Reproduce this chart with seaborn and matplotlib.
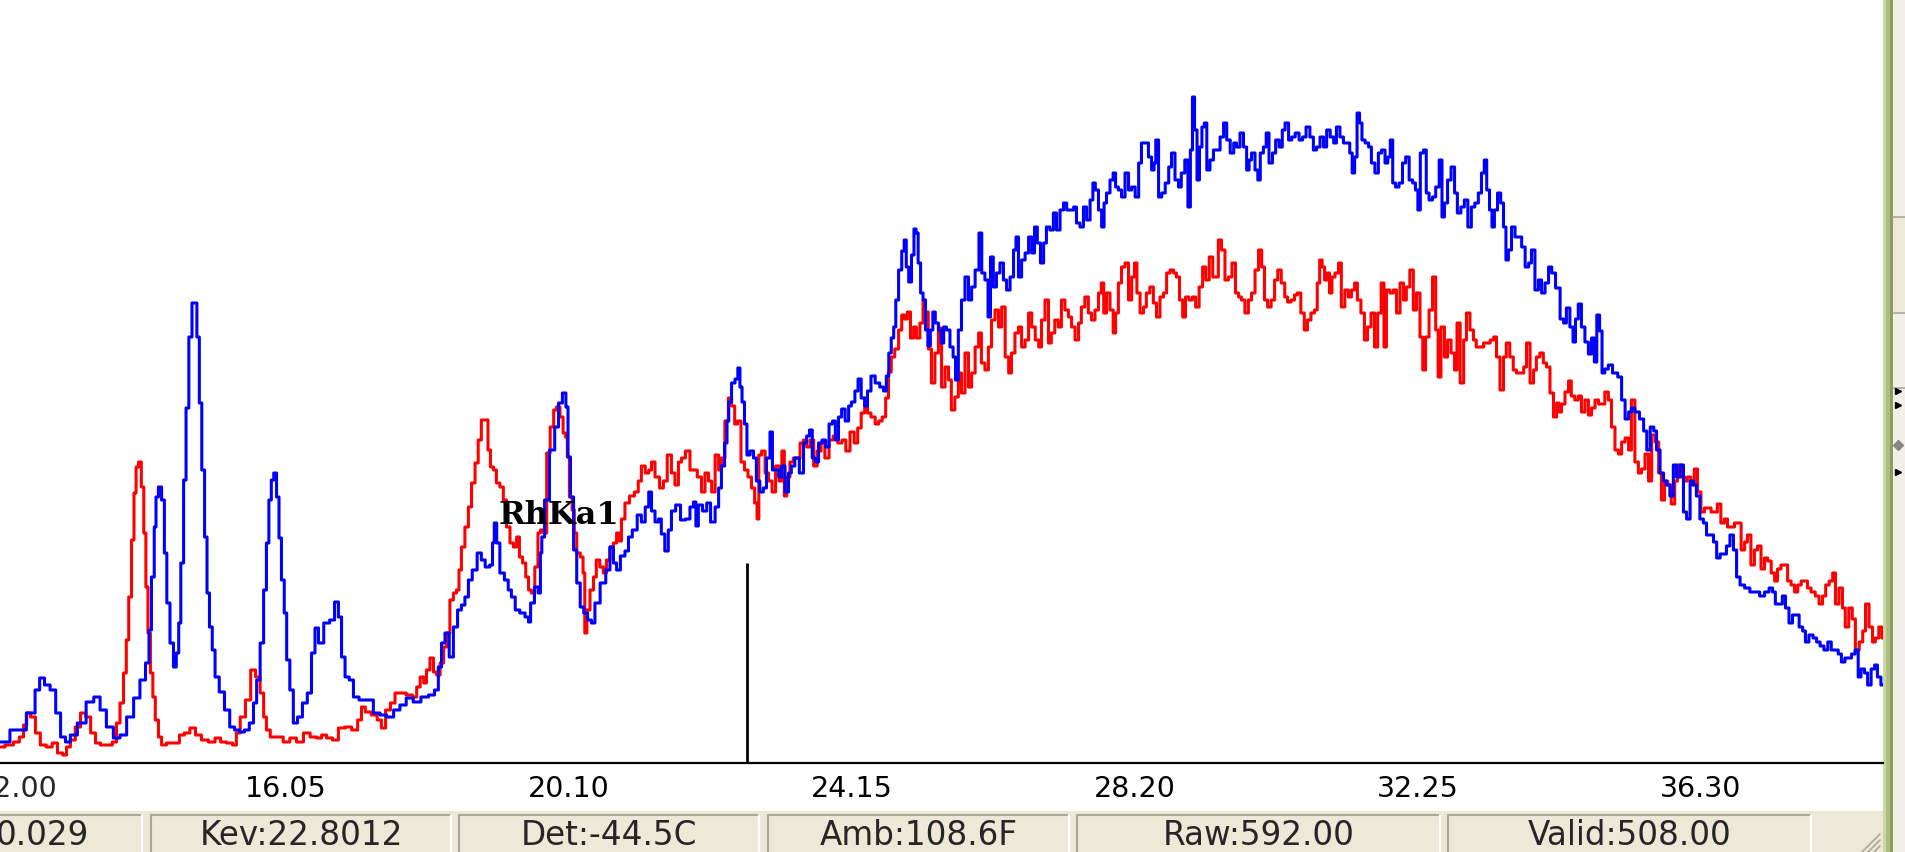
"""
XRF spectrum screen: two overlaid spectra (red / blue) with the analyzer status bar.
"""

import matplotlib
matplotlib.use("Agg")
import matplotlib.pyplot as plt
from matplotlib.patches import Rectangle
from matplotlib.transforms import ScaledTranslation
import pandas as pd
import seaborn as sns

# --- spectrum readings (energy in keV, counts) ---
red_kev = [
    12.11, 12.25, 12.35, 12.42, 12.47, 12.51, 12.58, 12.65, 12.72, 12.82,
    12.89, 12.97, 13.04, 13.08, 13.15, 13.22, 13.30, 13.37, 13.44, 13.51,
    13.58, 13.68, 13.75, 13.80, 13.85, 13.90, 13.93, 13.97, 14.01, 14.04,
    14.07, 14.11, 14.15, 14.18, 14.21, 14.24, 14.28, 14.31, 14.35, 14.40,
    14.44, 14.54, 14.64, 14.71, 14.78, 14.87, 14.94, 15.04, 15.14, 15.23,
    15.30, 15.40, 15.47, 15.51, 15.58, 15.66, 15.73, 15.80, 15.86, 15.90,
    15.94, 16.01, 16.11, 16.21, 16.30, 16.40, 16.50, 16.59, 16.69, 16.73,
    16.83, 16.90, 17.00, 17.09, 17.19, 17.26, 17.30, 17.37, 17.47, 17.54,
    17.59, 17.66, 17.73, 17.79, 17.87, 17.97, 18.05, 18.09, 18.15, 18.19,
    18.23, 18.29, 18.33, 18.38, 18.43, 18.48, 18.52, 18.57, 18.62, 18.66,
    18.69, 18.73, 18.79, 18.83, 18.88, 18.93, 18.97, 19.02, 19.08, 19.10,
    19.15, 19.19, 19.23, 19.29, 19.33, 19.38, 19.43, 19.48, 19.52, 19.56,
    19.61, 19.65, 19.69, 19.73, 19.79, 19.82, 19.86, 19.91, 19.95, 20.01,
    20.05, 20.09, 20.15, 20.18, 20.22, 20.23, 20.28, 20.31, 20.34, 20.38,
    20.44, 20.46, 20.49, 20.52, 20.58, 20.62, 20.66, 20.72, 20.76, 20.81,
    20.86, 20.91, 20.95, 20.98, 21.02, 21.08, 21.15, 21.22, 21.26, 21.31,
    21.37, 21.41, 21.45, 21.51, 21.58, 21.62, 21.69, 21.74, 21.79, 21.84,
    21.88, 21.95, 22.01, 22.05, 22.12, 22.17, 22.22, 22.27, 22.31, 22.37,
    22.41, 22.45, 22.51, 22.55, 22.60, 22.64, 22.68, 22.74, 22.78, 22.84,
    22.88, 22.93, 22.95, 22.98, 23.03, 23.08, 23.13, 23.18, 23.23, 23.28,
    23.31, 23.35, 23.38, 23.44, 23.48, 23.53, 23.58, 23.63, 23.67, 23.73,
    23.77, 23.83, 23.88, 23.94, 24.00, 24.06, 24.13, 24.18, 24.24, 24.30,
    24.36, 24.40, 24.46, 24.50, 24.54, 24.60, 24.66, 24.70, 24.76, 24.80,
    24.84, 24.88, 24.94, 24.99, 25.03, 25.07, 25.11, 25.16, 25.20, 25.24,
    25.30, 25.33, 25.37, 25.41, 25.46, 25.51, 25.56, 25.60, 25.66, 25.70,
    25.74, 25.80, 25.84, 25.89, 25.94, 25.99, 26.03, 26.09, 26.13, 26.17,
    26.23, 26.27, 26.32, 26.37, 26.42, 26.46, 26.52, 26.56, 26.60, 26.66,
    26.70, 26.75, 26.80, 26.85, 26.89, 26.95, 26.99, 27.03, 27.09, 27.13,
    27.17, 27.23, 27.27, 27.32, 27.37, 27.42, 27.46, 27.52, 27.56, 27.60,
    27.66, 27.70, 27.75, 27.80, 27.85, 27.88, 27.92, 27.96, 28.02, 28.05,
    28.09, 28.13, 28.18, 28.23, 28.28, 28.32, 28.36, 28.39, 28.45, 28.49,
    28.53, 28.59, 28.63, 28.68, 28.73, 28.78, 28.82, 28.88, 28.92, 28.96,
    29.01, 29.05, 29.09, 29.15, 29.19, 29.24, 29.29, 29.34, 29.38, 29.44,
    29.48, 29.52, 29.56, 29.61, 29.66, 29.71, 29.76, 29.81, 29.85, 29.89,
    29.95, 29.99, 30.04, 30.09, 30.14, 30.18, 30.22, 30.27, 30.32, 30.37,
    30.41, 30.47, 30.51, 30.55, 30.61, 30.65, 30.69, 30.75, 30.79, 30.84,
    30.89, 30.94, 30.97, 31.01, 31.04, 31.08, 31.11, 31.15, 31.18, 31.24,
    31.28, 31.32, 31.38, 31.42, 31.47, 31.51, 31.55, 31.61, 31.65, 31.70,
    31.75, 31.80, 31.84, 31.90, 31.92, 31.97, 32.02, 32.07, 32.11, 32.17,
    32.21, 32.25, 32.31, 32.35, 32.40, 32.45, 32.48, 32.53, 32.58, 32.63,
    32.67, 32.70, 32.75, 32.80, 32.84, 32.90, 32.94, 32.97, 33.03, 33.07,
    33.11, 33.17, 33.21, 33.25, 33.31, 33.36, 33.40, 33.46, 33.50, 33.54,
    33.60, 33.64, 33.68, 33.74, 33.78, 33.83, 33.89, 33.93, 33.97, 34.03,
    34.07, 34.11, 34.17, 34.21, 34.26, 34.31, 34.36, 34.40, 34.43, 34.47,
    34.53, 34.57, 34.61, 34.67, 34.71, 34.76, 34.81, 34.86, 34.90, 34.96,
    35.00, 35.04, 35.10, 35.14, 35.19, 35.24, 35.29, 35.33, 35.39, 35.43,
    35.47, 35.53, 35.57, 35.62, 35.67, 35.72, 35.76, 35.82, 35.86, 35.90,
    35.95, 35.99, 36.05, 36.09, 36.13, 36.19, 36.23, 36.27, 36.33, 36.37,
    36.42, 36.47, 36.52, 36.56, 36.62, 36.66, 36.70, 36.76, 36.80, 36.85,
    36.90, 36.95, 36.99, 37.05, 37.09, 37.13, 37.19, 37.23, 37.28, 37.33,
    37.38, 37.42, 37.48, 37.52, 37.56, 37.62, 37.66, 37.71, 37.76, 37.81,
    37.85, 37.91, 37.95, 37.99, 38.05, 38.11, 38.16, 38.21, 38.25, 38.31,
    38.35, 38.39, 38.45, 38.49, 38.53, 38.59, 38.63, 38.68, 38.74, 38.78,
    38.82, 38.88, 38.92, 38.96, 39.02, 39.05,
]
red_counts = [
    16, 18, 21, 26, 38, 50, 46, 30, 18, 16,
    20, 10, 8, 16, 23, 36, 50, 46, 30, 20,
    18, 18, 21, 40, 60, 90, 123, 166, 223, 270,
    296, 301, 276, 230, 176, 130, 90, 66, 43, 26,
    18, 20, 20, 28, 30, 35, 28, 23, 21, 25,
    21, 20, 18, 30, 46, 63, 93, 86, 70, 46,
    33, 26, 26, 21, 25, 21, 30, 26, 25, 28,
    25, 23, 35, 36, 33, 43, 56, 51, 48, 43,
    35, 53, 60, 70, 70, 68, 66, 76, 86, 80,
    93, 105, 91, 88, 100, 116, 130, 163, 170, 173,
    193, 216, 236, 256, 280, 300, 323, 343, 343, 313,
    296, 293, 280, 276, 263, 236, 220, 216, 226, 206,
    200, 186, 173, 170, 196, 230, 233, 230, 310, 336,
    353, 356, 346, 330, 326, 306, 266, 253, 230, 210,
    206, 190, 130, 153, 173, 186, 203, 196, 190, 203,
    216, 220, 230, 222, 244, 260, 267, 271, 282, 297,
    290, 293, 301, 286, 275, 282, 308, 290, 278, 301,
    305, 312, 293, 293, 286, 271, 290, 282, 271, 308,
    293, 305, 342, 365, 357, 339, 342, 301, 293, 286,
    275, 260, 244, 308, 312, 290, 282, 271, 297, 282,
    312, 267, 286, 301, 305, 305, 320, 323, 316, 323,
    297, 312, 320, 305, 323, 327, 320, 323, 312, 331,
    320, 335, 350, 365, 350, 346, 339, 342, 346, 365,
    391, 406, 414, 433, 448, 444, 451, 425, 436, 425,
    440, 463, 451, 414, 380, 410, 435, 376, 396, 383,
    353, 366, 390, 370, 410, 376, 390, 416, 430, 400,
    393, 416, 443, 453, 436, 456, 406, 390, 410, 430,
    436, 416, 423, 450, 436, 423, 416, 443, 463, 420,
    430, 443, 436, 463, 453, 446, 436, 423, 440, 456,
    466, 450, 443, 453, 470, 480, 450, 470, 453, 430,
    450, 480, 496, 500, 463, 486, 500, 470, 450, 456,
    470, 476, 460, 446, 466, 470, 490, 493, 490, 486,
    463, 446, 466, 463, 466, 456, 476, 496, 483, 506,
    486, 486, 523, 513, 483, 486, 500, 470, 466, 463,
    450, 463, 470, 493, 513, 496, 463, 456, 463, 483,
    493, 480, 466, 461, 463, 468, 470, 450, 433, 443,
    450, 453, 480, 503, 496, 483, 490, 470, 486, 490,
    500, 456, 473, 466, 473, 480, 463, 450, 423, 436,
    450, 416, 450, 480, 416, 473, 470, 473, 450, 480,
    463, 476, 493, 453, 470, 426, 393, 426, 453, 486,
    433, 386, 436, 406, 423, 410, 393, 440, 380, 423,
    450, 433, 423, 416, 416, 420, 420, 423, 426, 406,
    373, 406, 420, 406, 393, 390, 390, 396, 420, 380,
    393, 406, 410, 400, 396, 370, 346, 360, 351, 359,
    371, 382, 367, 363, 367, 351, 363, 348, 355, 363,
    359, 359, 371, 363, 336, 313, 309, 321, 325, 313,
    363, 301, 290, 294, 309, 282, 328, 321, 290, 263,
    282, 278, 259, 282, 298, 286, 282, 286, 278, 294,
    271, 251, 255, 255, 251, 251, 259, 240, 244, 236,
    236, 240, 240, 213, 221, 228, 198, 213, 217, 194,
    205, 202, 190, 182, 194, 198, 198, 182, 178, 171,
    178, 182, 182, 175, 171, 167, 159, 167, 178, 182,
    190, 159, 175, 155, 136, 155, 144, 113, 121, 132,
    159, 136, 121, 125, 136, 125,
]

blue_kev = [
    12.11, 12.39, 12.58, 12.64, 12.71, 12.78, 12.87, 12.94, 13.01, 13.08,
    13.15, 13.28, 13.40, 13.50, 13.58, 13.68, 13.78, 13.87, 13.97, 14.07,
    14.15, 14.23, 14.25, 14.30, 14.33, 14.35, 14.40, 14.44, 14.48, 14.51,
    14.57, 14.61, 14.65, 14.68, 14.71, 14.76, 14.78, 14.84, 14.87, 14.91,
    14.94, 14.98, 15.01, 15.06, 15.08, 15.13, 15.16, 15.21, 15.28, 15.36,
    15.43, 15.50, 15.57, 15.64, 15.71, 15.76, 15.80, 15.86, 15.90, 15.94,
    15.97, 16.01, 16.04, 16.09, 16.11, 16.16, 16.19, 16.23, 16.28, 16.33,
    16.40, 16.47, 16.54, 16.59, 16.64, 16.69, 16.79, 16.86, 16.93, 16.97,
    17.02, 17.07, 17.14, 17.19, 17.30, 17.40, 17.50, 17.59, 17.69, 17.79,
    17.87, 17.97, 18.07, 18.19, 18.29, 18.36, 18.40, 18.45, 18.50, 18.57,
    18.62, 18.69, 18.73, 18.79, 18.83, 18.90, 18.97, 19.02, 19.08, 19.15,
    19.16, 19.20, 19.23, 19.29, 19.36, 19.40, 19.45, 19.51, 19.58, 19.66,
    19.68, 19.72, 19.79, 19.83, 19.85, 19.87, 19.93, 20.01, 20.08, 20.12,
    20.19, 20.22, 20.25, 20.29, 20.34, 20.38, 20.44, 20.48, 20.55, 20.59,
    20.65, 20.74, 20.81, 20.86, 20.91, 20.95, 21.02, 21.08, 21.12, 21.19,
    21.26, 21.31, 21.37, 21.41, 21.45, 21.51, 21.55, 21.59, 21.65, 21.69,
    21.74, 21.81, 21.88, 21.95, 22.01, 22.05, 22.08, 22.12, 22.20, 22.24,
    22.31, 22.37, 22.41, 22.45, 22.50, 22.52, 22.55, 22.60, 22.65, 22.68,
    22.71, 22.74, 22.78, 22.81, 22.87, 22.91, 22.95, 23.01, 23.05, 23.10,
    23.15, 23.17, 23.23, 23.27, 23.31, 23.37, 23.41, 23.45, 23.51, 23.58,
    23.63, 23.67, 23.71, 23.75, 23.80, 23.84, 23.90, 23.94, 24.00, 24.04,
    24.08, 24.13, 24.17, 24.23, 24.27, 24.31, 24.37, 24.40, 24.46, 24.50,
    24.54, 24.60, 24.66, 24.73, 24.77, 24.81, 24.84, 24.88, 24.91, 24.94,
    24.99, 25.03, 25.06, 25.09, 25.13, 25.17, 25.20, 25.23, 25.26, 25.30,
    25.33, 25.37, 25.40, 25.44, 25.47, 25.51, 25.56, 25.59, 25.63, 25.67,
    25.73, 25.76, 25.80, 25.84, 25.89, 25.94, 25.99, 26.03, 26.09, 26.14,
    26.17, 26.23, 26.26, 26.30, 26.34, 26.39, 26.44, 26.49, 26.53, 26.59,
    26.63, 26.66, 26.70, 26.75, 26.80, 26.85, 26.89, 26.93, 26.97, 27.02,
    27.06, 27.10, 27.16, 27.20, 27.25, 27.30, 27.35, 27.39, 27.45, 27.49,
    27.53, 27.59, 27.63, 27.68, 27.73, 27.76, 27.80, 27.85, 27.89, 27.92,
    27.96, 28.02, 28.05, 28.09, 28.13, 28.18, 28.23, 28.28, 28.32, 28.38,
    28.42, 28.46, 28.52, 28.56, 28.61, 28.63, 28.66, 28.71, 28.75, 28.81,
    28.85, 28.89, 28.95, 28.99, 29.03, 29.09, 29.12, 29.16, 29.18, 29.22,
    29.25, 29.29, 29.32, 29.36, 29.39, 29.45, 29.49, 29.54, 29.59, 29.64,
    29.68, 29.74, 29.78, 29.82, 29.88, 29.92, 29.97, 29.99, 30.04, 30.09,
    30.12, 30.16, 30.21, 30.24, 30.29, 30.34, 30.38, 30.44, 30.47, 30.52,
    30.57, 30.61, 30.67, 30.72, 30.77, 30.82, 30.88, 30.92, 30.97, 31.02,
    31.07, 31.11, 31.17, 31.21, 31.25, 31.31, 31.35, 31.40, 31.44, 31.47,
    31.51, 31.54, 31.58, 31.61, 31.67, 31.71, 31.75, 31.81, 31.85, 31.90,
    31.95, 31.98, 32.02, 32.05, 32.10, 32.15, 32.20, 32.24, 32.30, 32.34,
    32.38, 32.41, 32.45, 32.50, 32.53, 32.58, 32.63, 32.67, 32.73, 32.75,
    32.80, 32.84, 32.90, 32.94, 32.98, 33.04, 33.08, 33.14, 33.18, 33.24,
    33.28, 33.33, 33.36, 33.40, 33.44, 33.47, 33.51, 33.56, 33.60, 33.64,
    33.67, 33.71, 33.76, 33.81, 33.86, 33.90, 33.96, 34.00, 34.04, 34.10,
    34.14, 34.19, 34.24, 34.29, 34.33, 34.40, 34.46, 34.50, 34.54, 34.60,
    34.63, 34.67, 34.71, 34.76, 34.81, 34.86, 34.90, 34.94, 34.97, 35.02,
    35.04, 35.10, 35.14, 35.22, 35.29, 35.33, 35.39, 35.43, 35.47, 35.53,
    35.60, 35.65, 35.69, 35.75, 35.79, 35.83, 35.89, 35.93, 35.97, 36.03,
    36.07, 36.12, 36.17, 36.22, 36.26, 36.32, 36.36, 36.40, 36.46, 36.50,
    36.55, 36.60, 36.65, 36.69, 36.75, 36.79, 36.83, 36.89, 36.93, 36.98,
    37.03, 37.11, 37.18, 37.25, 37.32, 37.39, 37.45, 37.49, 37.53, 37.59,
    37.63, 37.68, 37.73, 37.78, 37.82, 37.88, 37.92, 37.96, 38.02, 38.08,
    38.12, 38.18, 38.23, 38.29, 38.33, 38.39, 38.43, 38.48, 38.53, 38.58,
    38.62, 38.68, 38.71, 38.76, 38.81, 38.85, 38.91, 38.95, 38.99, 39.05,
]
blue_counts = [
    21, 33, 50, 73, 85, 78, 73, 50, 26, 21,
    28, 40, 61, 66, 53, 36, 25, 28, 46, 65,
    83, 100, 133, 186, 236, 266, 276, 263, 210, 160,
    120, 96, 110, 140, 200, 283, 355, 426, 460, 460,
    426, 360, 293, 226, 170, 136, 113, 86, 71, 53,
    36, 33, 31, 33, 40, 60, 83, 120, 173, 220,
    263, 283, 290, 266, 225, 183, 150, 103, 73, 40,
    46, 60, 70, 110, 135, 120, 140, 143, 161, 146,
    106, 86, 83, 66, 63, 63, 50, 48, 46, 53,
    58, 65, 61, 66, 68, 73, 96, 120, 130, 106,
    136, 153, 158, 166, 183, 193, 210, 203, 196, 198,
    220, 240, 220, 190, 183, 173, 166, 153, 150, 146,
    141, 160, 176, 170, 210, 226, 263, 313, 336, 360,
    370, 356, 306, 266, 213, 180, 156, 150, 143, 140,
    160, 180, 193, 216, 200, 193, 207, 212, 226, 233,
    248, 241, 256, 271, 252, 241, 244, 229, 212, 233,
    252, 258, 243, 244, 256, 261, 237, 258, 252, 260,
    241, 256, 275, 297, 320, 342, 361, 380, 384, 395,
    376, 361, 339, 308, 312, 305, 282, 271, 275, 305,
    331, 293, 293, 286, 297, 271, 290, 297, 305, 290,
    320, 327, 333, 305, 301, 320, 323, 316, 339, 342,
    323, 346, 354, 342, 357, 361, 372, 384, 365, 357,
    372, 387, 380, 376, 372, 387, 410, 425, 436, 463,
    493, 512, 523, 496, 481, 508, 534, 530, 500, 470,
    463, 433, 417, 433, 451, 440, 433, 420, 436, 433,
    416, 406, 383, 433, 463, 486, 463, 476, 493, 530,
    490, 483, 446, 506, 476, 490, 500, 483, 473, 486,
    513, 526, 486, 503, 510, 526, 510, 536, 520, 500,
    520, 536, 533, 550, 533, 553, 560, 553, 553, 556,
    540, 536, 556, 543, 563, 580, 573, 553, 536, 560,
    570, 583, 590, 576, 573, 566, 590, 573, 576, 566,
    600, 620, 620, 606, 593, 600, 623, 566, 570, 580,
    596, 610, 583, 576, 590, 603, 556, 613, 666, 633,
    583, 616, 636, 640, 593, 603, 613, 613, 626, 640,
    623, 610, 620, 616, 630, 616, 593, 603, 610, 593,
    583, 610, 616, 630, 600, 610, 623, 616, 633, 640,
    623, 626, 630, 623, 626, 636, 626, 613, 616, 626,
    616, 633, 626, 620, 636, 626, 620, 620, 610, 590,
    606, 650, 640, 623, 620, 616, 600, 590, 610, 613,
    600, 606, 623, 580, 576, 580, 600, 606, 583, 580,
    573, 553, 610, 613, 570, 563, 566, 576, 603, 546,
    560, 583, 596, 570, 550, 556, 563, 536, 556, 560,
    570, 590, 603, 573, 553, 536, 553, 570, 560, 536,
    503, 513, 536, 526, 526, 516, 496, 500, 513, 473,
    483, 470, 480, 496, 490, 475, 444, 440, 455, 436,
    421, 444, 459, 436, 421, 409, 425, 401, 448, 432,
    390, 394, 398, 390, 386, 363, 344, 351, 355, 351,
    344, 332, 313, 336, 332, 313, 290, 282, 278, 267,
    298, 286, 298, 251, 244, 282, 278, 267, 244, 240,
    228, 228, 221, 205, 209, 209, 217, 228, 213, 186,
    178, 175, 171, 171, 167, 171, 175, 171, 159, 159,
    167, 155, 140, 148, 148, 136, 132, 121, 128, 125,
    121, 117, 113, 121, 113, 113, 109, 101, 105, 105,
    109, 113, 86, 94, 90, 78, 94, 98, 86, 78,
]

major_ticks = [12.00, 16.05, 20.10, 24.15, 28.20, 32.25, 36.30]
minor_ticks = [14.025, 18.075, 22.125, 26.175, 30.225, 34.275, 38.325]
kev_range = (12.108, 39.05)
count_range = (0, 763)

cursor_kev = 22.8012      # cursor position shown as "Kev:" in the status bar
cursor_top = 200
peak_label = "RhKa1"
peak_label_kev = 20.10
peak_label_counts = 248

status_labels = ["0.029", "Kev:22.8012", "Det:-44.5C", "Amb:108.6F", "Raw:592.00", "Valid:508.00"]

assert len(red_kev) == len(red_counts)
assert len(blue_kev) == len(blue_counts)

W, H = 1905, 852
sns.set_style("white")
plt.rcParams["font.family"] = ["DejaVu Sans"]

fig = plt.figure(figsize=(W / 100, H / 100), dpi=100)
fig.patch.set_facecolor("white")

# window chrome layer in pixel units (status bar, splitter, side strip)
deco = fig.add_axes([0, 0, 1, 1], zorder=0)
deco.set_xlim(0, W)
deco.set_ylim(H, 0)
deco.axis("off")

ax = fig.add_axes([0, (H - 763) / H, 1883 / W, 763 / H], zorder=1)
ax.patch.set_alpha(0)

# --- spectra ---
red_df = pd.DataFrame({"kev": red_kev, "counts": red_counts})
blue_df = pd.DataFrame({"kev": blue_kev, "counts": blue_counts})
sns.lineplot(data=red_df, x="kev", y="counts", ax=ax, color="#FF0000",
             linewidth=2.2, estimator=None, sort=False, drawstyle="steps-mid")
sns.lineplot(data=blue_df, x="kev", y="counts", ax=ax, color="#0000FF",
             linewidth=2.2, estimator=None, sort=False, drawstyle="steps-mid")

# cursor and peak label
ax.vlines(cursor_kev, 0, cursor_top, color="black", linewidth=2.0)
ax.text(peak_label_kev, peak_label_counts, peak_label, ha="center", va="center",
        fontsize=23, fontweight="bold", family="DejaVu Serif", color="black")

# --- axes ---
ax.set_xlim(*kev_range)
ax.set_ylim(*count_range)
for side in ["top", "left", "right"]:
    ax.spines[side].set_visible(False)
ax.spines["bottom"].set_linewidth(1.6)
ax.spines["bottom"].set_color("black")
visible_major = [t for t in major_ticks if t >= kev_range[0]]
ax.set_xticks(visible_major)
ax.set_xticklabels([f"{t:.2f}" for t in visible_major])
ax.set_xticks(minor_ticks, minor=True)
ax.set_yticks([])
ax.set_xlabel("")
ax.set_ylabel("")
ax.tick_params(axis="x", which="both", direction="out", length=7.9, width=1.4,
               color="black", pad=0.8, labelsize=20.5, labelcolor="black")
# the instrument draws its labels a little right of each tick
label_shift = ScaledTranslation(10 / 100, 0, fig.dpi_scale_trans)
for lbl in ax.get_xticklabels():
    lbl.set_transform(lbl.get_transform() + label_shift)
# first major label sits partly left of the window edge
ax.annotate(f"{major_ticks[0]:.2f}", xy=(major_ticks[0], 0), xycoords=("data", "axes fraction"),
            xytext=(17.6, -8.7), textcoords="offset points", ha="center", va="top",
            fontsize=20.5, annotation_clip=False)

# --- status bar ---
deco.add_patch(Rectangle((0, 811), 1883, 41, facecolor="#ECE9D8", edgecolor="none"))
panels = [(-10, 142), (151, 451), (459, 759), (768, 1069), (1077, 1440), (1448, 1811)]
for (x0, x1), label in zip(panels, status_labels):
    deco.plot([x0, x1], [815, 815], color="#ACA899", lw=1.5)
    deco.plot([x0, x0], [815, 852], color="#ACA899", lw=1.5)
    deco.plot([x1, x1], [815, 852], color="white", lw=1.5)
    if x0 < 0:
        deco.text(-4, 845, label, ha="left", va="baseline", fontsize=23.5)
    else:
        deco.text((x0 + x1) / 2, 845, label, ha="center", va="baseline", fontsize=23.5)

# size grip
for k in range(3):
    off = 6 * k
    deco.plot([1862 + off, 1880], [852, 834 + off], color="#ACA899", lw=1.2)

# splitter bar and side strip
deco.add_patch(Rectangle((1893, 0), 12, H, facecolor="#F1EFE6", edgecolor="none"))
deco.add_patch(Rectangle((1893, 217), 12, 96, facecolor="#ECE9D8", edgecolor="none"))
for yy in [217, 313, 388]:
    deco.plot([1893, 1905], [yy, yy], color="#ACA899", lw=1.2)
deco.add_patch(Rectangle((1883, 0), 3, H, facecolor="#CBD8A6", edgecolor="none"))
deco.add_patch(Rectangle((1886, 0), 4, H, facecolor="#AEBE80", edgecolor="none"))
deco.add_patch(Rectangle((1890, 0), 3, H, facecolor="#8C9C5C", edgecolor="none"))
deco.plot([1898, 1898, 1898], [391, 405, 472], ls="none", marker=">", color="black", ms=4)
deco.plot([1898], [445], ls="none", marker="D", color="#888888", ms=5)

fig.savefig("out.png", dpi=100, facecolor=fig.get_facecolor())
